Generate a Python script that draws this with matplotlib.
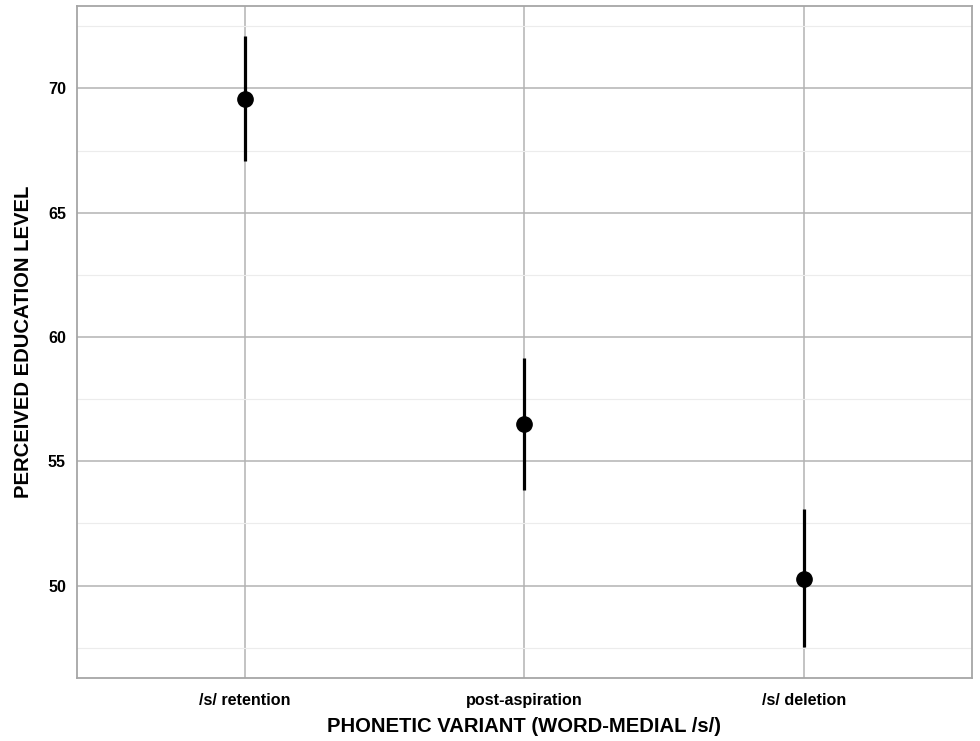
import matplotlib
matplotlib.use('Agg')
import matplotlib.pyplot as plt
from matplotlib.ticker import MultipleLocator

plt.rcParams['font.family'] = ['Liberation Sans', 'DejaVu Sans']

# values
variants = ['/s/ retention', 'post-aspiration', '/s/ deletion']
means = [69.56, 56.49, 50.28]
lower = [67.07, 53.86, 47.51]
upper = [72.09, 59.16, 53.09]

fig = plt.figure(figsize=(9.8, 7.41), dpi=100)
ax = fig.add_axes([0.0786, 0.085, 0.913, 0.907])

x = list(range(1, len(variants) + 1))
ax.vlines(x, lower, upper, color='black', linewidth=2.3, zorder=3)
ax.plot(x, means, 'o', color='black', markersize=11, zorder=4)

ax.set_xlim(0.4, 3.6)
lo, hi = min(lower), max(upper)
pad = (hi - lo) * 0.05
ax.set_ylim(lo - pad, hi + pad)

ax.set_xticks(x)
ax.set_xticklabels(variants)
ax.yaxis.set_major_locator(MultipleLocator(5))
ax.yaxis.set_minor_locator(MultipleLocator(2.5))

ax.grid(True, which='major', color='#b3b3b3', linewidth=1.1)
ax.grid(True, which='minor', axis='y', color='#ececec', linewidth=0.8)
ax.set_axisbelow(True)

for s in ax.spines.values():
    s.set_color('#a6a6a6')
    s.set_linewidth(1.3)

ax.tick_params(which='both', length=0, labelsize=11.6)
ax.tick_params(axis='x', pad=11)
ax.tick_params(axis='y', pad=8)
for lab in ax.get_xticklabels() + ax.get_yticklabels():
    lab.set_fontweight('bold')

ax.set_xlabel('PHONETIC VARIANT (WORD-MEDIAL /s/)', fontsize=14.6,
              fontweight='bold', labelpad=6)
ax.set_ylabel('PERCEIVED EDUCATION LEVEL', fontsize=14.6,
              fontweight='bold', labelpad=11)

fig.savefig('out.png', dpi=100)
